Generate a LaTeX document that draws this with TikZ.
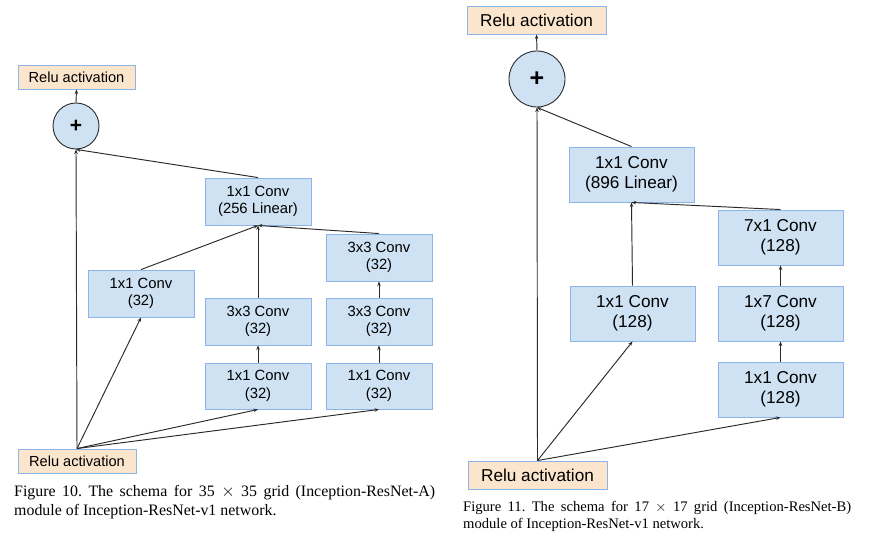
\documentclass[tikz,border=0pt]{standalone}
\usepackage{fontspec}
\setmainfont{Liberation Serif}
\setsansfont{Liberation Sans}
\usetikzlibrary{arrows.meta}
\frenchspacing
\definecolor{boxfill}{HTML}{CFE2F3}
\definecolor{boxline}{HTML}{8DB4E8}
\definecolor{relufill}{HTML}{FCE5CD}
\definecolor{edgecol}{HTML}{2A2A2A}
\tikzset{
  convL/.style={draw=boxline, line width=0.9pt, fill=boxfill, minimum width=106pt, minimum height=47pt, inner sep=0pt, align=center, font=\sffamily\fontsize{14.8}{17.5}\selectfont},
  convR/.style={draw=boxline, line width=0.9pt, fill=boxfill, minimum width=125pt, minimum height=55pt, inner sep=0pt, align=center, font=\sffamily\fontsize{17.2}{20.5}\selectfont},
  reluL/.style={draw=boxline, line width=0.9pt, fill=relufill, minimum width=117pt, minimum height=24pt, inner sep=0pt, font=\sffamily\fontsize{14.6}{17}\selectfont},
  reluR/.style={draw=boxline, line width=0.9pt, fill=relufill, minimum width=139pt, minimum height=28pt, inner sep=0pt, font=\sffamily\fontsize{17.2}{20}\selectfont},
  plusnode/.style={circle, draw=edgecol, line width=0.9pt, fill=boxfill, inner sep=0pt, font=\sffamily\bfseries},
  edge/.style={draw=edgecol, line width=0.95pt, -{Stealth[length=4.5pt,width=3.5pt]}},
  capL/.style={anchor=base west, inner sep=0pt, align=left, font=\fontsize{15.9}{19}\selectfont},
  capR/.style={anchor=base west, inner sep=0pt, align=left, font=\fontsize{14.6}{17}\selectfont},
}
\begin{document}
\begin{tikzpicture}[x=1pt,y=-1pt]
\useasboundingbox (0,0) rectangle (881,545);
% ---------- Left diagram (Figure 10) ----------
\node[reluL] (reluTopL) at (76.5,77) {Relu activation};
\node[plusnode, minimum size=46pt, font=\sffamily\bfseries\fontsize{21}{21}\selectfont] (plusL) at (76,126) {+};
\node[convL] (linL) at (258,201.5) {1x1 Conv\\(256 Linear)};
\node[convL] (c33tR) at (379,257.5) {3x3 Conv\\(32)};
\node[convL] (c11L) at (141,293.5) {1x1 Conv\\(32)};
\node[convL] (c33M) at (258,321.5) {3x3 Conv\\(32)};
\node[convL] (c33R) at (379,321.5) {3x3 Conv\\(32)};
\node[convL, minimum height=46pt] (c11M) at (258,386) {1x1 Conv\\(32)};
\node[convL, minimum height=46pt] (c11R) at (379,386) {1x1 Conv\\(32)};
\node[reluL, minimum width=118pt] (reluBotL) at (77,461) {Relu activation};

\draw[edge] (plusL.north) -- (reluTopL.south);
\draw[edge] (linL.north) -- (plusL.south);
\draw[edge] (reluBotL.north) -- (plusL.south);
\draw[edge] (reluBotL.north) -- (c11L.south);
\draw[edge] (reluBotL.north) -- (c11M.south);
\draw[edge] (reluBotL.north) -- (c11R.south);
\draw[edge] (c11M.north) -- (c33M.south);
\draw[edge] (c33M.north) -- (linL.south);
\draw[edge] (c11R.north) -- (c33R.south);
\draw[edge] (c33R.north) -- (c33tR.south);
\draw[edge] (c33tR.north) -- (linL.south);
\draw[edge] (c11L.north) -- (linL.south);

\node[capL] (capL1) at (14,496) {\makebox[421pt][s]{Figure 10. The schema for 35 $\times$ 35 grid (Inception-ResNet-A)}};
\node[capL] (capL2) at (14,515) {module of Inception-ResNet-v1 network.};

% ---------- Right diagram (Figure 11) ----------
\node[reluR] (reluTopR) at (536.5,20) {Relu activation};
\node[plusnode, minimum size=56pt, font=\sffamily\bfseries\fontsize{25}{25}\selectfont] (plusR) at (537,79) {+};
\node[convR] (lin896) at (631.5,174.5) {1x1 Conv\\(896 Linear)};
\node[convR] (c71) at (780.5,237.5) {7x1 Conv\\(128)};
\node[convR] (c11a) at (632.5,313.5) {1x1 Conv\\(128)};
\node[convR] (c17) at (780.5,313.5) {1x7 Conv\\(128)};
\node[convR] (c11b) at (780.5,389.5) {1x1 Conv\\(128)};
\node[reluR] (reluBotR) at (537.5,475) {Relu activation};

\draw[edge] (plusR.north) -- (reluTopR.south);
\draw[edge] (lin896.north) -- (plusR.south);
\draw[edge] (reluBotR.north) -- (plusR.south);
\draw[edge] (reluBotR.north) -- (c11a.south);
\draw[edge] (reluBotR.north) -- (c11b.south);
\draw[edge] (c11b.north) -- (c17.south);
\draw[edge] (c17.north) -- (c71.south);
\draw[edge] (c71.north) -- (lin896.south);
\draw[edge] (c11a.north) -- (lin896.south);

\node[capR] (capR1) at (463,511) {\makebox[388pt][s]{Figure 11. The schema for 17 $\times$ 17 grid (Inception-ResNet-B)}};
\node[capR] (capR2) at (463,528) {module of Inception-ResNet-v1 network.};
\end{tikzpicture}
\end{document}
